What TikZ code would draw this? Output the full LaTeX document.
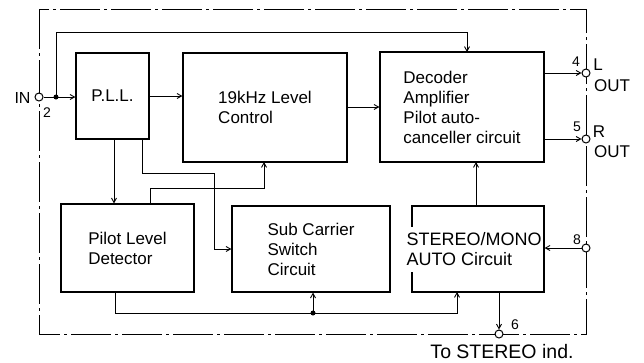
\documentclass[tikz,border=0pt]{standalone}
\usepackage{fontspec}
\setmainfont{Liberation Sans}
\usetikzlibrary{arrows.meta}
\begin{document}
\begin{tikzpicture}[x=1pt,y=-1pt,
  box/.style={draw,line width=1.2pt,inner sep=0pt,anchor=center,align=left,
    font=\fontsize{17}{20}\selectfont},
  wire/.style={line width=0.9pt},
  arr/.style={wire,-{Straight Barb[length=4.5pt,width=5pt]}},
  pin/.style={draw,circle,line width=1pt,fill=white,inner sep=0pt,minimum size=8pt},
  dot/.style={fill,circle,inner sep=0pt,minimum size=5pt},
  lab/.style={font=\fontsize{17}{19}\selectfont,inner sep=0pt},
  small/.style={font=\fontsize{14}{16}\selectfont,inner sep=0pt},
  border/.style={line width=1pt,dash pattern=on 40pt off 4pt on 3pt off 4pt}]
\useasboundingbox (0,0) rectangle (644,362);
% outer dash-dot boundary
\draw[border] (39,9) rectangle (586,334);
% blocks
\node[box,minimum width=73pt,minimum height=86pt] (pll) at (112.5,96) {P.L.L.};
\node[box,minimum width=164pt,minimum height=109pt] (lvl) at (265,107.5) {19kHz Level\\Control};
\node[box,minimum width=164pt,minimum height=110pt] (dec) at (462,107) {Decoder\\Amplifier\\Pilot auto-\\canceller circuit};
\node[box,minimum width=133pt,minimum height=88pt] (pld) at (127.5,248) {Pilot Level\\Detector};
\node[box,minimum width=158pt,minimum height=86pt] (sub) at (311,249) {Sub Carrier\\Switch\\Circuit};
\node[box,minimum width=132pt,minimum height=86pt] (stm) at (478,249) {};
\node[align=left,fill=white,inner xsep=1pt,inner ysep=6pt,font=\fontsize{18}{20}\selectfont] (stmtext) at (474,249.5) {STEREO/MONO\\AUTO Circuit};
% pins
\node[pin] (pinIN) at (39,97) {};
\node[pin] (pin4) at (586,73) {};
\node[pin] (pin5) at (586,139) {};
\node[pin] (pin8) at (586,248) {};
\node[pin] (pin6) at (499,334) {};
% pin labels
\node[lab,font=\fontsize{16}{18}\selectfont] (tIN) at (22.5,98) {IN};
\node[small] (t2) at (47,113) {2};
\node[small] (t4) at (576,62) {4};
\node[lab] (tL) at (598,65) {L};
\node[lab] (tOUT1) at (612,86) {OUT};
\node[small] (t5) at (577,127) {5};
\node[lab] (tR) at (599,132) {R};
\node[lab] (tOUT2) at (612,152) {OUT};
\node[small] (t8) at (577,240) {8};
\node[small] (t6) at (515,325) {6};
\node[lab,font=\fontsize{19.5}{22}\selectfont] (tind) at (502,352) {To STEREO ind.};
% coordinates
\coordinate (j1) at (56,97);
\coordinate (t1) at (56,32);
\coordinate (decTop) at (467,52);
\coordinate (a1) at (114,139);
\coordinate (b1) at (142,139);
\coordinate (b2) at (214,173);
\coordinate (c1) at (150,204);
\coordinate (c2) at (264,188);
\coordinate (c3) at (264,162);
\coordinate (d1) at (115,292);
\coordinate (d2) at (457,313);
\coordinate (d3) at (457,292);
\coordinate (j2) at (313,313);
\coordinate (e1) at (476,206);
\coordinate (e2) at (476,162);
\coordinate (f1) at (499,292);
% connectors
\draw[arr] (pinIN.east) -- (pll.west |- pinIN);
\draw[arr] (j1) -- (t1) -| (decTop);
\node[dot] (dj1) at (j1) {};
\draw[arr] (pll.east) -- (lvl.west |- pll.east);
\draw[arr] (lvl.east |- dec) -- (dec.west);
\draw[arr] (dec.east |- pin4) -- (pin4.west);
\draw[arr] (dec.east |- pin5) -- (pin5.west);
\draw[arr] (a1) -- (a1 |- pld.north);
\draw[arr] (b1) |- (b2) |- (sub.west);
\draw[arr] (c1) |- (c2) -- (c3);
\draw[arr] (d1) |- (d2) -- (d3);
\node[dot] (dj2) at (j2) {};
\draw[arr] (j2) -- (j2 |- sub.south);
\draw[arr] (e1) -- (e2);
\draw[arr] (pin8.west) -- (stm.east |- pin8);
\draw[arr] (f1) -- (pin6.north);
\end{tikzpicture}
\end{document}
